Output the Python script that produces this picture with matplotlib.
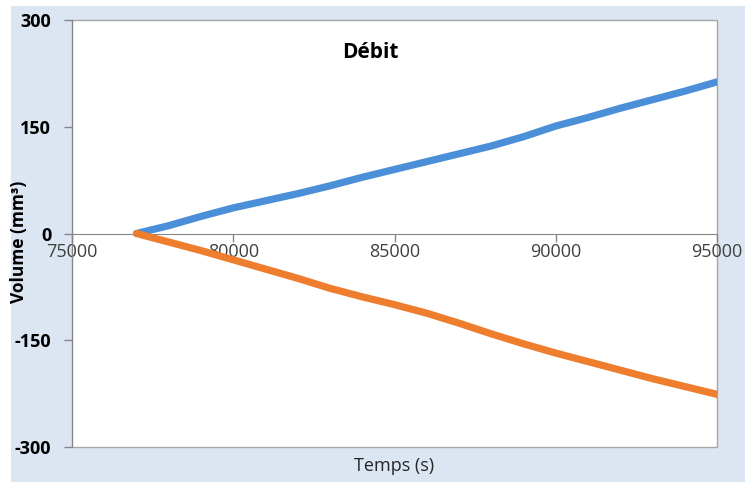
import matplotlib.pyplot as plt

# values (Temps in s, Volume in mm3)
temps = [77000, 78000, 79000, 80000, 81000, 82000, 83000, 84000, 85000, 86000,
         87000, 88000, 89000, 90000, 91000, 92000, 93000, 94000, 95000]
volume_bleu = [0, 11, 24, 36, 46, 56, 67, 79, 90, 101,
               112, 123, 136, 151, 163, 176, 188, 200, 213]
volume_orange = [0, -12, -24, -37, -50, -63, -77, -89, -100, -112,
                 -126, -141, -155, -168, -180, -192, -204, -215, -226]

x_ticks = [75000, 80000, 85000, 90000, 95000]
y_ticks = [-300, -150, 0, 150, 300]

plt.rcParams['font.family'] = ['Open Sans', 'DejaVu Sans']

fig = plt.figure(figsize=(7.45, 4.82), dpi=100)
fig.patch.set_facecolor('white')
# light blue chart area
fig.patches.append(plt.Rectangle((11 / 745, 0), 1 - 11 / 745, 1 - 6 / 482,
                                 transform=fig.transFigure, facecolor='#dce6f2',
                                 edgecolor='none', zorder=-5))

ax = fig.add_axes([72 / 745, 35 / 482, 645 / 745, 427 / 482])
ax.set_facecolor('white')
ax.patch.set_edgecolor('#a6a6a6')
ax.patch.set_linewidth(1.0)

ax.plot(temps, volume_bleu, color='#4a8fd8', lw=5.2, solid_capstyle='round', zorder=3)
ax.plot(temps, volume_orange, color='#ee7d2e', lw=5.2, solid_capstyle='round', zorder=3)

ax.set_xlim(75000, 95000)
ax.set_ylim(-300, 300)
ax.set_xticks(x_ticks)
ax.set_yticks(y_ticks)
ax.set_yticklabels([str(v) for v in y_ticks], fontweight='bold')

for side in ['top', 'right']:
    ax.spines[side].set_visible(False)
ax.spines['left'].set_color('#868686')
ax.spines['bottom'].set_position(('data', 0))
ax.spines['bottom'].set_color('#868686')

ax.tick_params(axis='y', direction='out', length=6, width=1, color='#868686',
               labelsize=13, labelcolor='black', pad=9)
ax.tick_params(axis='x', direction='out', length=6, width=1, color='#868686',
               labelsize=13, labelcolor='#404040', pad=1)

ax.text(0.462, 0.925, 'Débit', transform=ax.transAxes, ha='center', va='center',
        fontsize=15, fontweight='bold')
ax.set_ylabel('Volume (mm³)', fontsize=12.5, fontweight='bold')
ax.yaxis.set_label_coords(-0.068, 0.48)
fig.text(394 / 745, 1 - 466 / 482, 'Temps (s)', ha='center', va='center',
         fontsize=13, color='#262626')

fig.savefig('out.png', dpi=100)
